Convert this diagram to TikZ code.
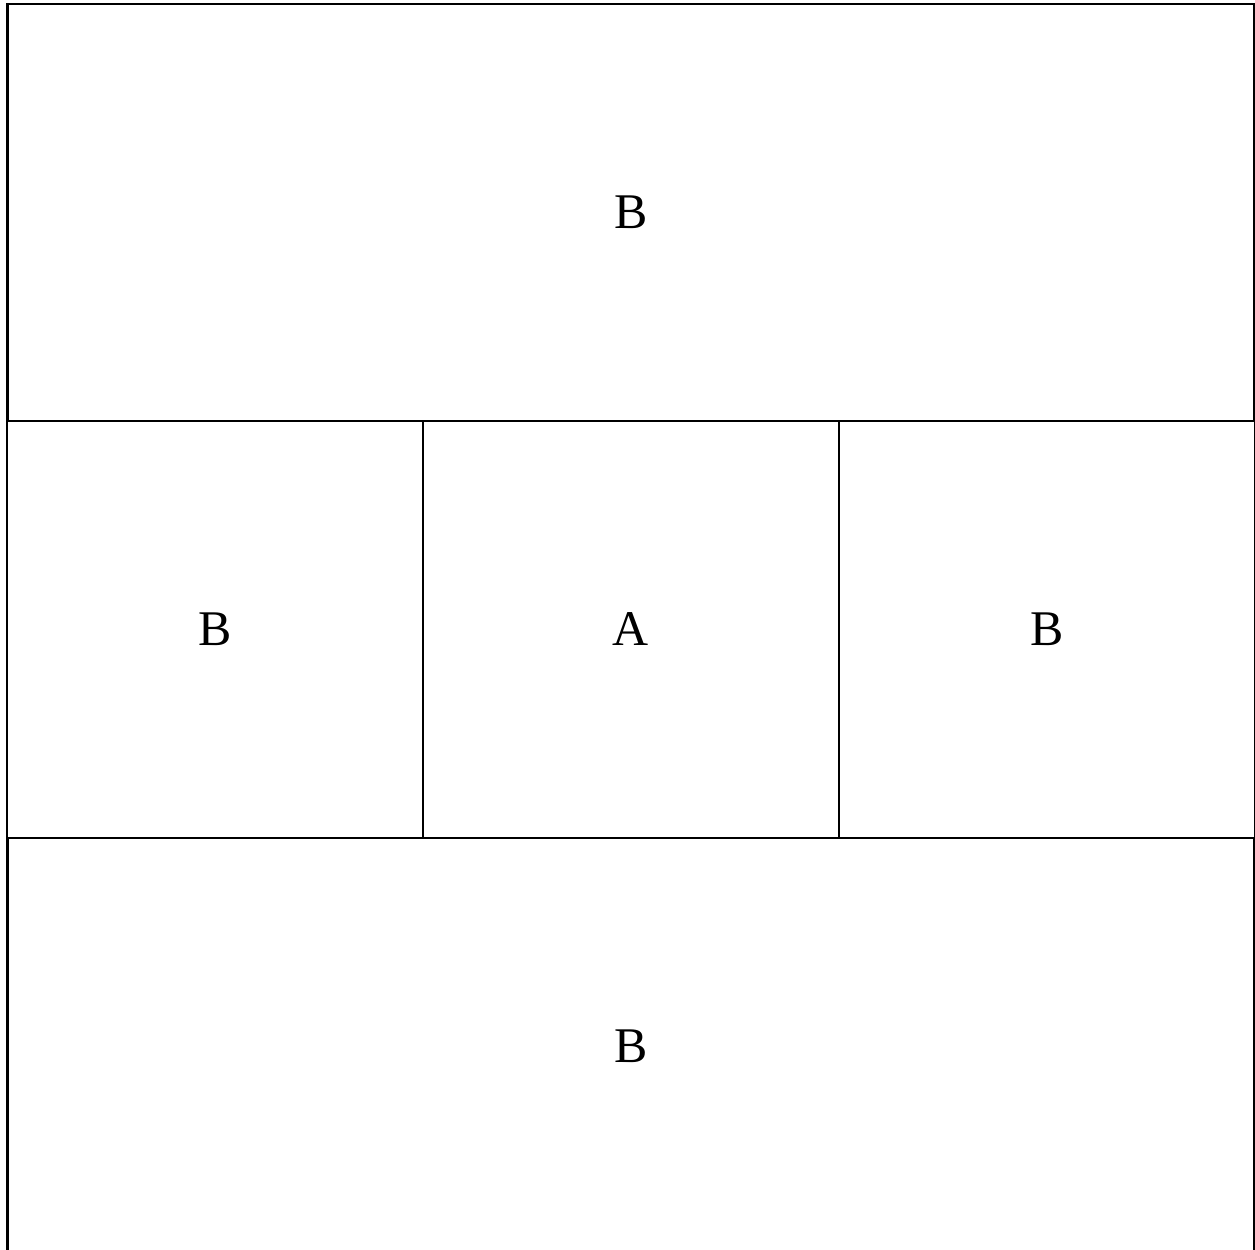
\documentclass[tikz,border=0pt]{standalone}
\usepackage{fontspec}
\setmainfont{Liberation Serif}
\usetikzlibrary{positioning}
\tikzset{
  cell/.style ={rectangle, draw=black, line width=0.6pt, outer sep=0pt, inner sep=0pt,
                minimum width=4.16cm, minimum height=4.17cm, font=\fontsize{14.2}{16}\selectfont},
  wcell/.style={cell, minimum width=12.47cm}
}
\begin{document}
\begin{tikzpicture}[node distance=0cm]
  \useasboundingbox (0,0) rectangle (12.55,12.5);
  \node[cell] (a) at (6.31,6.205) {A};
  \node[cell, left=of a] (bl) {B};
  \node[cell, right=of a] (br) {B};
  \node[wcell, above=of a] (bt) {B};
  \node[wcell, below=of a] (bb) {B};
\end{tikzpicture}
\end{document}
